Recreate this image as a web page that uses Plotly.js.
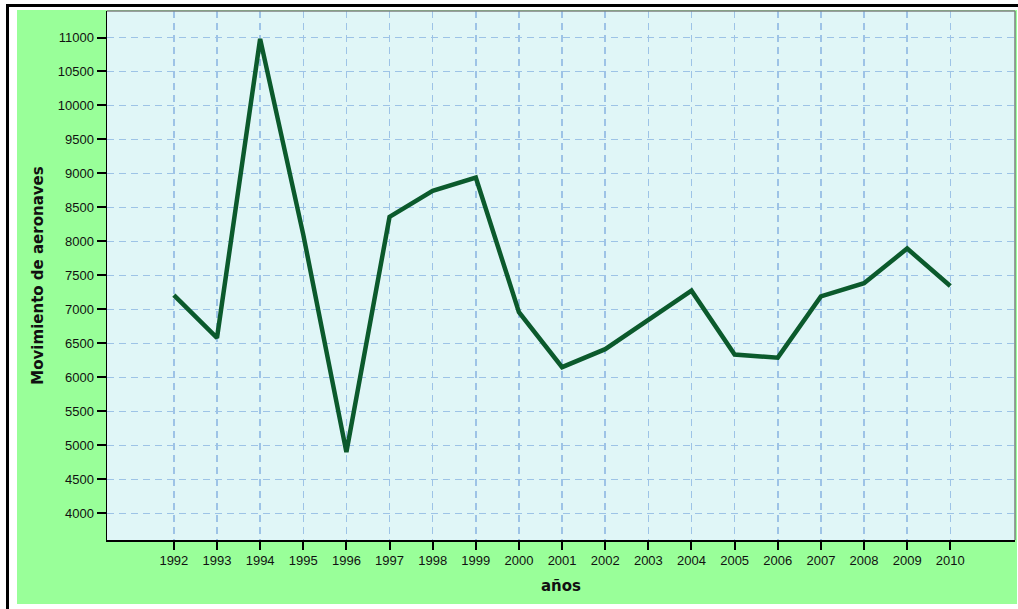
<!DOCTYPE html>
<html><head><meta charset="utf-8">
<script src="https://cdn.plot.ly/plotly-3.0.1.min.js"></script>
<style>
html,body{margin:0;padding:0;background:#fff;width:1018px;height:609px;overflow:hidden;}
#frameL{position:absolute;left:6px;top:4px;width:3px;height:605px;background:#000;}
#frameT{position:absolute;left:6px;top:4px;width:1012px;height:3px;background:#000;}
#chart{position:absolute;left:17px;top:10px;width:1000px;height:594px;}
</style></head>
<body>
<div id="frameL"></div><div id="frameT"></div>
<div id="chart"></div>
<script>
const years = [1992,1993,1994,1995,1996,1997,1998,1999,2000,2001,2002,2003,2004,2005,2006,2007,2008,2009,2010];
const movimientos = [7210,6580,10980,8100,4900,8360,8745,8940,6960,6150,6415,6840,7275,6335,6290,7190,7385,7895,7345];
const yTicks = [4000,4500,5000,5500,6000,6500,7000,7500,8000,8500,9000,9500,10000,10500,11000];

const trace = {
  x: years, y: movimientos, type: 'scatter', mode: 'lines',
  line: {color: '#0b5a2c', width: 4.5}, hoverinfo: 'x+y'
};
const titleFont = {family: 'DejaVu Sans, Verdana, sans-serif', size: 15, color: '#111'};
const layout = {
  width: 1000, height: 594,
  margin: {l: 90, r: 2, t: 1, b: 64},
  paper_bgcolor: '#99ff99',
  plot_bgcolor: '#e0f6f7',
  showlegend: false,
  font: {family: 'Liberation Sans, Arial, sans-serif', size: 13, color: '#111'},
  xaxis: {
    range: [1990.45, 2011.5], tickvals: years, ticktext: years.map(String),
    showgrid: true, gridcolor: '#9dc3e6', griddash: '7px,5px', gridwidth: 1.5,
    zeroline: false, showline: true, linecolor: '#000', linewidth: 1.5,
    ticks: 'outside', ticklen: 8, tickwidth: 2, tickcolor: '#000',
    tickfont: {size: 13, color: '#111'},
    title: {text: '<b>años</b>', font: titleFont, standoff: 13}
  },
  yaxis: {
    range: [3607, 11390], tickvals: yTicks, ticktext: yTicks.map(String),
    showgrid: true, gridcolor: '#9dc3e6', griddash: '7px,5px', gridwidth: 1.5,
    zeroline: false, showline: true, linecolor: '#000', linewidth: 1.5,
    ticks: 'outside', ticklen: 9, tickwidth: 2, tickcolor: '#000',
    tickfont: {size: 13, color: '#111'},
    title: {text: '<b>Movimiento de aeronaves</b>', font: titleFont, standoff: 10}
  },
  shapes: [
    {type: 'line', xref: 'paper', yref: 'paper', x0: 0, x1: 1, y0: 1, y1: 1, line: {color: '#808080', width: 1.5}},
    {type: 'line', xref: 'paper', yref: 'paper', x0: 1, x1: 1, y0: 0, y1: 1, line: {color: '#808080', width: 1.5}}
  ]
};
Plotly.newPlot('chart', [trace], layout, {displayModeBar: false, staticPlot: true});
</script>
</body></html>
